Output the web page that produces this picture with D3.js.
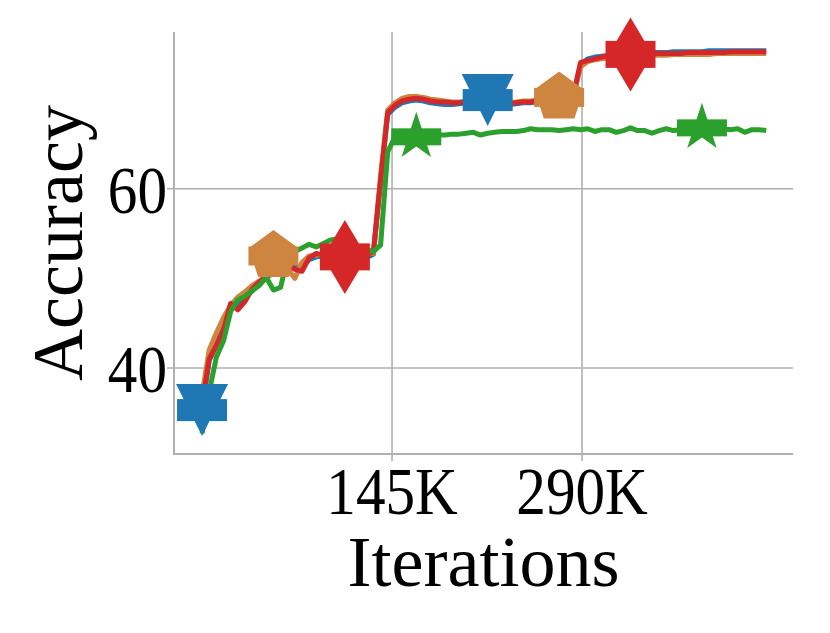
<!DOCTYPE html>
<html>
<head>
<meta charset="utf-8">
<script src="https://cdn.jsdelivr.net/npm/d3@7"></script>
<style>
  body { margin: 0; background: #fff; }
  svg { display: block; }
</style>
</head>
<body>
<div id="chart"></div>
<script>
// iterations are logged every 5.45K steps
var step = 5450;

var blueAcc = [35.3, 40.8, 42.6, 44.5, 46.9, 46.9, 47.8, 48.6, 49.4, 50.1,
    50.6, 51.2, 51.5, 51.2, 51.3, 52.1, 52.4, 52.5, 52.4, 52.3,
    52.2, 52.2, 52.3, 52.3, 52.7, 60.8, 68.3, 69.1, 69.6, 69.8,
    69.9, 69.8, 69.6, 69.5, 69.4, 69.4, 69.5, 69.6, 69.6, 69.7,
    69.9, 69.7, 69.5, 69.4, 69.5, 69.6, 69.6, 69.7, 69.7, 69.8,
    69.8, 69.9, 70.3, 73.9, 74.5, 74.7, 74.8, 74.9, 75.0, 75.1,
    75.1, 75.1, 75.2, 75.2, 75.2, 75.2, 75.3, 75.3, 75.3, 75.3,
    75.3, 75.4, 75.4, 75.4, 75.4, 75.4, 75.4, 75.4, 75.4, 75.4];

var orangeAcc = [37.0, 42.0, 43.9, 45.6, 47.0, 47.9, 48.5, 49.2, 49.7, 50.2,
    52.5, 51.6, 51.0, 50.0, 51.8, 52.5, 52.6, 52.7, 52.6, 52.5,
    52.5, 52.4, 52.6, 52.7, 52.8, 61.5, 68.8, 69.6, 70.1, 70.3,
    70.3, 70.2, 70.0, 69.9, 69.8, 69.7, 69.7, 69.8, 69.8, 69.9,
    69.9, 69.8, 69.7, 69.6, 69.7, 69.8, 69.8, 69.9, 70.0, 70.1,
    70.2, 70.1, 70.3, 73.6, 74.2, 74.4, 74.5, 74.6, 74.7, 74.8,
    74.8, 74.8, 74.9, 74.9, 74.9, 74.9, 75.0, 75.0, 75.0, 75.0,
    75.0, 75.0, 75.1, 75.1, 75.1, 75.1, 75.1, 75.1, 75.1, 75.1];

var redAcc = [36.0, 41.0, 42.5, 44.2, 47.2, 46.5, 47.4, 48.8, 49.6, 50.2,
    50.7, 51.4, 51.6, 51.0, 50.8, 52.3, 52.8, 52.6, 52.5, 52.4,
    52.4, 52.3, 52.5, 52.6, 53.0, 61.0, 68.5, 69.3, 69.8, 70.0,
    70.1, 70.0, 69.8, 69.7, 69.7, 69.6, 69.6, 69.7, 69.7, 69.8,
    69.8, 69.7, 69.6, 69.5, 69.6, 69.7, 69.7, 69.8, 69.9, 69.9,
    69.9, 70.0, 70.5, 74.1, 74.3, 74.5, 74.7, 74.9, 74.9, 75.0,
    75.0, 75.0, 75.0, 75.1, 75.1, 75.1, 75.1, 75.1, 75.2, 75.2,
    75.2, 75.2, 75.2, 75.2, 75.3, 75.3, 75.3, 75.3, 75.3, 75.3];

var greenAcc = [32.7, 37.3, 41.2, 43.0, 46.3, 47.6, 48.0, 48.6, 49.2, 50.1,
    48.7, 49.0, 52.4, 53.0, 53.4, 53.8, 53.5, 53.9, 54.3, 54.4,
    54.2, 53.9, 53.5, 53.2, 53.0, 53.7, 64.1, 65.8, 65.9, 65.9,
    65.8, 66.0, 65.9, 66.0, 66.0, 66.1, 66.1, 66.2, 66.3, 66.0,
    66.2, 66.3, 66.4, 66.4, 66.4, 66.5, 66.7, 66.6, 66.6, 66.6,
    66.5, 66.6, 66.7, 66.6, 66.7, 66.4, 66.6, 66.6, 66.3, 66.5,
    66.8, 66.5, 66.5, 66.2, 66.5, 66.7, 66.5, 66.6, 66.7, 66.7,
    66.8, 66.7, 66.7, 66.7, 66.6, 66.7, 66.3, 66.6, 66.6, 66.5];

var seriesNames = ['blue', 'orange', 'red', 'green'];
var seriesColors = ['#1f77b4', '#cd853f', '#d62728', '#2ca02c'];
var markerIndex = [[0, 40], [10, 50], [20, 60], [30, 70]];
var markerShapes = ['triangleDown', 'pentagon', 'thinDiamond', 'star'];

var xTicks = [145000, 290000];
var xTickLabels = ['145K', '290K'];
var yTicks = [40, 60];

var width = 830,
    height = 633,
    margins = {left: 174, right: 37, top: 32, bottom: 179};

var serif = "'Liberation Serif', 'Times New Roman', Tinos, 'DejaVu Serif', serif";

function translate(x, y) { return 'translate(' + x + ',' + y + ')'; }

// marker outlines, centred on 0,0
function markerPath(shape) {
    var pts = [], i, a;
    if (shape === 'triangleDown') {
        pts = [[-26, -26], [26, -26], [0, 26]];
    } else if (shape === 'pentagon') {
        for (i = 0; i < 5; i++) {
            a = -Math.PI / 2 + i * 2 * Math.PI / 5;
            pts.push([26 * Math.cos(a), 26 * Math.sin(a)]);
        }
    } else if (shape === 'thinDiamond') {
        pts = [[0, -37], [22, 0], [0, 37], [-22, 0]];
    } else {
        for (i = 0; i < 10; i++) {
            a = -Math.PI / 2 + i * Math.PI / 5;
            var r = i % 2 ? 9.6 : 25;
            pts.push([r * Math.cos(a), r * Math.sin(a)]);
        }
    }
    return 'M' + pts.map(function (p) { return p[0].toFixed(2) + ',' + p[1].toFixed(2); }).join('L') + 'Z';
}
var rectHeights = [22, 19, 27, 17];

var data = [blueAcc, orangeAcc, redAcc, greenAcc].map(function (vals, k) {
    return {
        name: seriesNames[k],
        color: seriesColors[k],
        values: vals.map(function (v, i) { return {it: i * step, acc: v}; })
    };
});

var xScale = d3.scaleLinear().domain([-21400, 451000]).range([margins.left, width - margins.right]);
var yScale = d3.scaleLinear().domain([30.4, 77.5]).range([height - margins.bottom, margins.top]);

var svg = d3.select('#chart')
    .append('svg')
        .attr('width', width)
        .attr('height', height);

var x0 = margins.left, x1 = width - margins.right,
    y0 = height - margins.bottom, y1 = margins.top;

// grid
svg.append('g').selectAll('line.vgrid')
    .data(xTicks).enter().append('line')
        .attr('x1', function (d) { return xScale(d); })
        .attr('x2', function (d) { return xScale(d); })
        .attr('y1', y1).attr('y2', y0 + 7)
        .attr('stroke', '#b0b0b0').attr('stroke-width', 1.6);
svg.append('g').selectAll('line.hgrid')
    .data(yTicks).enter().append('line')
        .attr('x1', x0 - 7).attr('x2', x1)
        .attr('y1', function (d) { return yScale(d); })
        .attr('y2', function (d) { return yScale(d); })
        .attr('stroke', '#b0b0b0').attr('stroke-width', 1.6);

// spines (left + bottom only)
svg.append('path')
    .attr('d', 'M' + x0 + ',' + y1 + 'V' + y0 + 'H' + x1)
    .attr('fill', 'none')
    .attr('stroke', '#b0b0b0')
    .attr('stroke-width', 2);

// lines
var line = d3.line()
    .x(function (d) { return xScale(d.it); })
    .y(function (d) { return yScale(d.acc); });

svg.append('g').selectAll('path')
    .data(data).enter().append('path')
        .attr('d', function (d) { return line(d.values); })
        .attr('fill', 'none')
        .attr('stroke', function (d) { return d.color; })
        .attr('stroke-width', 5)
        .attr('stroke-linejoin', 'round');

// markers
data.forEach(function (s, k) {
    var pts = markerIndex[k].map(function (i) { return s.values[i]; });
    var g = svg.append('g').selectAll('g')
        .data(pts).enter().append('g')
            .attr('transform', function (d) { return translate(xScale(d.it), yScale(d.acc)); });
    g.append('rect')
        .attr('x', -25).attr('y', -rectHeights[k] / 2)
        .attr('width', 50).attr('height', rectHeights[k])
        .attr('fill', s.color);
    g.append('path')
        .attr('d', markerPath(markerShapes[k]))
        .attr('fill', s.color);
});

// tick labels (squeezed horizontally like the source)
svg.append('g').selectAll('g')
    .data(xTicks).enter().append('g')
        .attr('transform', function (d) { return translate(xScale(d), 514); })
    .append('text')
        .attr('transform', 'scale(0.87,1)')
        .attr('text-anchor', 'middle')
        .attr('font-family', serif)
        .attr('font-size', 68)
        .text(function (d, i) { return xTickLabels[i]; });

svg.append('g').selectAll('g')
    .data(yTicks).enter().append('g')
        .attr('transform', function (d) { return translate(x0 - 7, yScale(d) + 24); })
    .append('text')
        .attr('transform', 'scale(0.87,1)')
        .attr('text-anchor', 'end')
        .attr('font-family', serif)
        .attr('font-size', 68)
        .text(function (d) { return d; });

// axis titles
svg.append('text')
    .attr('x', (x0 + x1) / 2)
    .attr('y', 586)
    .attr('text-anchor', 'middle')
    .attr('font-family', serif)
    .attr('font-size', 72)
    .text('Iterations');

svg.append('text')
    .attr('transform', translate(82, (y0 + y1) / 2) + ' rotate(-90)')
    .attr('text-anchor', 'middle')
    .attr('font-family', serif)
    .attr('font-size', 72)
    .text('Accuracy');
</script>
</body>
</html>
